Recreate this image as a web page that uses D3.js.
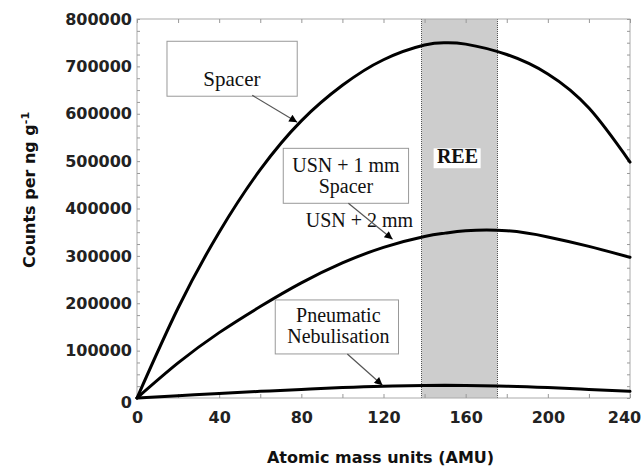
<!DOCTYPE html>
<html>
<head>
<meta charset="utf-8">
<script src="https://cdn.jsdelivr.net/npm/d3@7"></script>
<style>
  body { margin: 0; background: #fff; }
  svg { display: block; }
  .tick text { font-family: "DejaVu Sans", sans-serif; font-weight: bold; font-size: 16px; fill: #222; }
  .serif { font-family: "Liberation Serif", "Times New Roman", serif; fill: #111; }
</style>
</head>
<body>
<div id="chart"></div>
<script>
// values
const amu = [0, 20, 40, 60, 80, 100, 120, 140, 150, 160, 180, 200, 220, 240];
const spacer = [0, 190000, 350000, 482000, 585000, 660000, 714000, 745000, 750000, 747000, 725000, 684000, 612000, 498000];
const usn2mm = [0, 74000, 138000, 193000, 243000, 285000, 318000, 341000, 348000, 353000, 353000, 340000, 320000, 297000];
const pneumatic = [0, 5000, 9500, 14000, 18000, 22000, 25000, 26500, 27000, 26500, 25000, 22000, 18000, 14000];
const xTicks = [0, 40, 80, 120, 160, 200, 240];
const yTicks = [0, 100000, 200000, 300000, 400000, 500000, 600000, 700000, 800000];
const reeRange = [138.5, 175.5];

const outerWidth = 644;
const outerHeight = 469;
const margin = { left: 137, top: 19, right: 14, bottom: 71 };
const innerWidth = outerWidth - (margin.left + margin.right);
const innerHeight = outerHeight - (margin.top + margin.bottom);

const svg = d3.select('#chart')
    .append('svg')
    .attr('width', outerWidth)
    .attr('height', outerHeight);

const xScale = d3.scaleLinear().domain([0, 240]).range([0, innerWidth]);
const yScale = d3.scaleLinear().domain([0, 800000]).range([innerHeight, 0]);

const g = svg.append('g')
    .attr('transform', 'translate(' + margin.left + ',' + margin.top + ')');

// REE band
g.append('rect')
    .attr('x', xScale(reeRange[0]))
    .attr('y', 0)
    .attr('width', xScale(reeRange[1]) - xScale(reeRange[0]))
    .attr('height', innerHeight)
    .attr('fill', '#cdcdcd');
reeRange.forEach(v => {
    g.append('line')
        .attr('x1', xScale(v)).attr('x2', xScale(v))
        .attr('y1', 0).attr('y2', innerHeight)
        .attr('stroke', '#555').attr('stroke-width', 1)
        .attr('stroke-dasharray', '1,1');
});

// frame
g.append('rect')
    .attr('width', innerWidth).attr('height', innerHeight)
    .attr('fill', 'none').attr('stroke', '#aaa').attr('stroke-width', 1);

// axes
const xAxisG = g.append('g')
    .attr('transform', 'translate(0,' + innerHeight + ')')
    .call(d3.axisBottom(xScale).tickValues(xTicks).tickSize(0).tickPadding(14).tickFormat(d3.format('d')));
const yAxisG = g.append('g')
    .call(d3.axisLeft(yScale).tickValues(yTicks).tickSize(0).tickPadding(5).tickFormat(d3.format('d')));
[xAxisG, yAxisG].forEach(a => a.select('.domain').remove());
xAxisG.selectAll('.tick text').filter(d => d === 240).attr('dx', -6);
yAxisG.selectAll('.tick text').filter(d => d === 0).attr('dy', '0.62em');

// small inward ticks
const minorX = d3.range(0, 241, 20);
const minorY = d3.range(0, 800001, 25000);
g.append('g').attr('transform', 'translate(0,' + innerHeight + ')')
    .call(d3.axisBottom(xScale).tickValues(minorX).tickSize(-4).tickFormat(''));
g.append('g')
    .call(d3.axisTop(xScale).tickValues(minorX).tickSize(-4).tickFormat(''));
g.append('g')
    .call(d3.axisLeft(yScale).tickValues(minorY).tickSize(-3).tickFormat(''));
g.append('g').attr('transform', 'translate(' + innerWidth + ',0)')
    .call(d3.axisRight(yScale).tickValues(minorY).tickSize(-3).tickFormat(''));
g.selectAll('.domain').attr('stroke', 'none');
g.selectAll('.tick line').attr('stroke', '#999');

// curves
const line = d3.line()
    .x((d, i) => xScale(amu[i]))
    .y(d => yScale(d))
    .curve(d3.curveNatural);
[spacer, usn2mm, pneumatic].forEach(series => {
    g.append('path')
        .datum(series)
        .attr('fill', 'none')
        .attr('stroke', '#000')
        .attr('stroke-width', 3)
        .attr('stroke-linecap', 'round')
        .attr('d', line);
});

// annotations
function box(x0, x1, y0, y1) {
    g.append('rect')
        .attr('x', xScale(x0)).attr('y', yScale(y0))
        .attr('width', xScale(x1) - xScale(x0))
        .attr('height', yScale(y1) - yScale(y0))
        .attr('fill', '#fff').attr('stroke', '#999').attr('stroke-width', 1);
}
function label(txt, x, y, size, weight) {
    g.append('text').attr('class', 'serif')
        .attr('x', xScale(x)).attr('y', yScale(y))
        .attr('text-anchor', 'middle')
        .attr('font-size', size).attr('font-weight', weight || 'normal')
        .text(txt);
}
svg.append('defs').append('marker')
    .attr('id', 'head').attr('viewBox', '0 0 10 10')
    .attr('refX', 10).attr('refY', 5)
    .attr('markerWidth', 10).attr('markerHeight', 8)
    .attr('markerUnits', 'userSpaceOnUse')
    .attr('orient', 'auto')
    .append('path').attr('d', 'M0,0L10,5L0,10Z').attr('fill', '#000');
function arrow(x0, y0, x1, y1) {
    g.append('line')
        .attr('x1', xScale(x0)).attr('y1', yScale(y0))
        .attr('x2', xScale(x1)).attr('y2', yScale(y1))
        .attr('stroke', '#555').attr('stroke-width', 1.2)
        .attr('marker-end', 'url(#head)');
}

box(14.6, 78, 753000, 637000);
label('Spacer', 46.2, 658000, 21);
arrow(56.1, 639000, 78, 582000);

box(71.2, 132.2, 527000, 411000);
label('USN + 1 mm', 101.7, 477000, 20);
label('Spacer', 101.7, 432000, 20);
label('USN + 2 mm', 108.3, 361000, 20);
arrow(102.9, 411000, 124.4, 335000);

g.append('rect')
    .attr('x', xScale(144.4)).attr('y', yScale(527000))
    .attr('width', xScale(167.3) - xScale(144.4))
    .attr('height', yScale(485000) - yScale(527000))
    .attr('fill', '#fff');
label('REE', 156, 496000, 20, 'bold');

box(67.3, 127.3, 207000, 93000);
label('Pneumatic', 98, 160000, 20);
label('Nebulisation', 98, 116000, 20);
arrow(102.4, 93000, 119.5, 27000);

// axis titles
svg.append('text')
    .attr('x', margin.left + innerWidth / 2 - 3)
    .attr('y', 463)
    .attr('text-anchor', 'middle')
    .attr('font-family', '"DejaVu Sans", sans-serif')
    .attr('font-weight', 'bold').attr('font-size', 16).attr('fill', '#111')
    .text('Atomic mass units (AMU)');

const yTitle = svg.append('text')
    .attr('transform', 'translate(35,' + 190 + ') rotate(-90)')
    .attr('text-anchor', 'middle')
    .attr('font-family', '"DejaVu Sans", sans-serif')
    .attr('font-weight', 'bold').attr('font-size', 16).attr('fill', '#111');
yTitle.append('tspan').text('Counts per ng g');
yTitle.append('tspan').attr('dy', -6).attr('font-size', 11).text('-1');
</script>
</body>
</html>
